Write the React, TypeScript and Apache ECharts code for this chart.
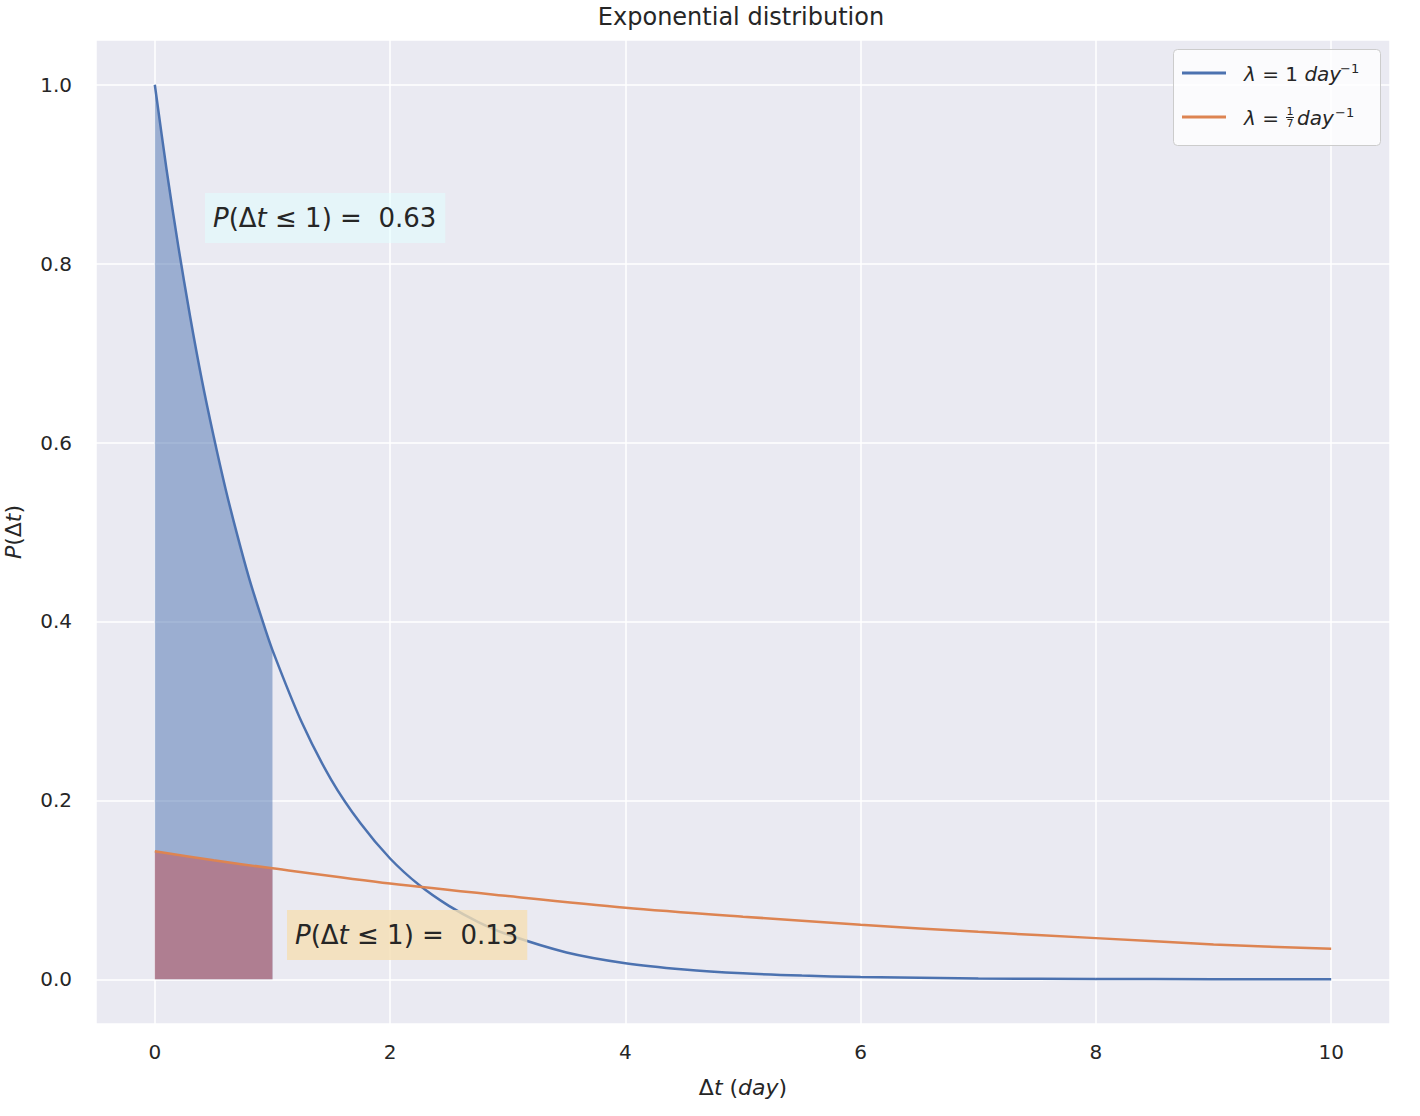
import React, { useEffect, useRef } from "react";
import * as echarts from "echarts";

// Values
const blueX = [0, 0.1, 0.2, 0.3, 0.4, 0.5, 0.6, 0.7, 0.8, 0.9, 1.0, 1.25, 1.5, 1.75, 2.0, 2.25, 2.5, 2.75, 3.0, 3.5, 4.0, 4.5, 5.0, 5.5, 6.0, 7.0, 8.0, 9.0, 10.0];
const blueY = [1.0, 0.905, 0.819, 0.741, 0.670, 0.607, 0.549, 0.497, 0.449, 0.407, 0.368, 0.287, 0.223, 0.174, 0.135, 0.105, 0.082, 0.064, 0.050, 0.030, 0.018, 0.011, 0.0067, 0.0041, 0.0025, 0.0009, 0.0003, 0.0001, 0.00005];
const orangeX = [0, 0.5, 1, 2, 3, 4, 5, 6, 7, 8, 9, 10];
const orangeY = [0.143, 0.133, 0.124, 0.107, 0.093, 0.080, 0.070, 0.061, 0.053, 0.046, 0.039, 0.034];
const fillUntil = 1;
const xTickLabels = [0, 2, 4, 6, 8, 10];
const yTickLabels = [0, 0.2, 0.4, 0.6, 0.8, 1.0];
const probBlue = "0.63";
const probOrange = "0.13";
const titleText = "Exponential distribution";

const FONT = "DejaVu Sans";
const TXT = "#262626";
const BLUE = "#4c72b0";
const ORANGE = "#dd8452";
const RED = "#c44e52";

const pairs = (xs: number[], ys: number[]) => xs.map((x, i) => [x, ys[i]]);
const upTo = (xs: number[], ys: number[], lim: number) =>
  xs.map((x, i) => [x, ys[i]]).filter((p) => p[0] <= lim);

const annotRich = (size: number) => ({
  i: { fontStyle: "italic", fontSize: size, fontFamily: FONT, fill: TXT, lineHeight: size },
  n: { fontSize: size, fontFamily: FONT, fill: TXT, lineHeight: size },
});

export default function App() {
  const ref = useRef<HTMLDivElement>(null);
  useEffect(() => {
    if (!ref.current) return;
    const chart = echarts.init(ref.current, null, { renderer: "svg" });
    const annotSize = 26;
    const legendSize = 20;
    const option: any = {
      animation: false,
      backgroundColor: "#ffffff",
      grid: {
        left: 96,
        right: 30,
        top: 40,
        bottom: 92,
        show: true,
        backgroundColor: "#eaeaf2",
        borderWidth: 0,
        containLabel: false,
        outerBoundsMode: "none",
      },
      xAxis: {
        type: "value",
        min: -0.5,
        max: 10.5,
        splitNumber: 5,
        axisLine: { show: false },
        axisTick: { show: false },
        splitLine: { show: true, lineStyle: { color: "#ffffff", width: 1.5 } },
        axisLabel: {
          showMinLabel: false,
          showMaxLabel: false,
          margin: 18,
          fontSize: 20,
          fontFamily: FONT,
          color: TXT,
          formatter: (v: number) => (xTickLabels.includes(v) ? String(v) : ""),
        },
        name: "{d|Δ}{i|t}{d| (}{i|day}{d|)}",
        nameLocation: "middle",
        nameGap: 52,
        nameTextStyle: {
          rich: {
            d: { fontSize: 22, fontFamily: FONT, color: TXT },
            i: { fontSize: 22, fontFamily: FONT, color: TXT, fontStyle: "italic" },
          },
        },
      },
      yAxis: {
        type: "value",
        min: -0.05,
        max: 1.05,
        splitNumber: 5,
        axisLine: { show: false },
        axisTick: { show: false },
        splitLine: { show: true, lineStyle: { color: "#ffffff", width: 1.5 } },
        axisLabel: {
          showMinLabel: false,
          showMaxLabel: false,
          margin: 24,
          fontSize: 20,
          fontFamily: FONT,
          color: TXT,
          formatter: (v: number) =>
            yTickLabels.some((t) => Math.abs(t - v) < 1e-9) ? v.toFixed(1) : "",
        },
        name: "{i|P}{d|(Δ}{i|t}{d|)}",
        nameLocation: "middle",
        nameGap: 72,
        nameRotate: 90,
        nameTextStyle: {
          rich: {
            d: { fontSize: 22, fontFamily: FONT, color: TXT },
            i: { fontSize: 22, fontFamily: FONT, color: TXT, fontStyle: "italic" },
          },
        },
      },
      series: [
        {
          type: "line",
          data: upTo(blueX, blueY, fillUntil),
          smooth: 0.3,
          symbol: "none",
          lineStyle: { width: 0 },
          areaStyle: { color: BLUE, opacity: 0.5 },
          z: 1,
          silent: true,
        },
        {
          type: "line",
          data: upTo(orangeX, orangeY, fillUntil),
          symbol: "none",
          lineStyle: { width: 0 },
          areaStyle: { color: RED, opacity: 0.5 },
          z: 2,
          silent: true,
        },
        {
          type: "line",
          data: pairs(blueX, blueY),
          smooth: 0.3,
          symbol: "none",
          lineStyle: { color: BLUE, width: 2.5 },
          z: 3,
        },
        {
          type: "line",
          data: pairs(orangeX, orangeY),
          smooth: 0.3,
          symbol: "none",
          lineStyle: { color: ORANGE, width: 2.5 },
          z: 3,
        },
      ],
      graphic: [
        {
          type: "text",
          x: 741,
          y: 17,
          z: 10,
          style: {
            text: titleText,
            fontSize: 24,
            fontFamily: FONT,
            fill: TXT,
            align: "center",
            verticalAlign: "middle",
          },
        },
        {
          type: "text",
          x: 205,
          y: 193,
          z: 10,
          style: {
            text: `{i|P}{n|(Δ}{i|t}{n| ≤ 1) =  ${probBlue}}`,
            rich: annotRich(annotSize),
            fontSize: annotSize,
            fontFamily: FONT,
            fill: TXT,
            lineHeight: annotSize,
            backgroundColor: "rgba(224,255,255,0.5)",
            padding: [12, 9, 12, 8],
          },
        },
        {
          type: "text",
          x: 287,
          y: 910,
          z: 10,
          style: {
            text: `{i|P}{n|(Δ}{i|t}{n| ≤ 1) =  ${probOrange}}`,
            rich: annotRich(annotSize),
            fontSize: annotSize,
            fontFamily: FONT,
            fill: TXT,
            lineHeight: annotSize,
            backgroundColor: "rgba(245,222,179,0.8)",
            padding: [12, 9, 12, 8],
          },
        },
        // legend
        {
          type: "rect",
          z: 10,
          shape: { x: 1173.5, y: 49.5, width: 207, height: 96, r: 4 },
          style: { fill: "rgba(255,255,255,0.8)", stroke: "#cccccc", lineWidth: 1 },
        },
        {
          type: "line",
          z: 11,
          shape: { x1: 1182, y1: 73, x2: 1226, y2: 73 },
          style: { stroke: BLUE, lineWidth: 3 },
        },
        {
          type: "line",
          z: 11,
          shape: { x1: 1182, y1: 117, x2: 1226, y2: 117 },
          style: { stroke: ORANGE, lineWidth: 3 },
        },
        {
          type: "text",
          z: 11,
          x: 1244,
          y: 74,
          style: {
            text: "{i|λ}{n| = 1 }{i|day}",
            rich: annotRich(legendSize),
            fontSize: legendSize,
            fontFamily: FONT,
            fill: TXT,
            verticalAlign: "middle",
          },
        },
        {
          type: "text",
          z: 11,
          x: 1340,
          y: 68,
          style: { text: "−1", fontSize: 13, fontFamily: FONT, fill: TXT, verticalAlign: "middle" },
        },
        {
          type: "text",
          z: 11,
          x: 1244,
          y: 118,
          style: {
            text: "{i|λ}{n| =}",
            rich: annotRich(legendSize),
            fontSize: legendSize,
            fontFamily: FONT,
            fill: TXT,
            verticalAlign: "middle",
          },
        },
        {
          type: "text",
          z: 11,
          x: 1290,
          y: 111,
          style: { text: "1", fontSize: 11, fontFamily: FONT, fill: TXT, align: "center", verticalAlign: "middle" },
        },
        {
          type: "line",
          z: 11,
          shape: { x1: 1286, y1: 117.5, x2: 1294, y2: 117.5 },
          style: { stroke: TXT, lineWidth: 1 },
        },
        {
          type: "text",
          z: 11,
          x: 1290,
          y: 123,
          style: { text: "7", fontSize: 11, fontFamily: FONT, fill: TXT, align: "center", verticalAlign: "middle" },
        },
        {
          type: "text",
          z: 11,
          x: 1297,
          y: 118,
          style: {
            text: "{i|day}",
            rich: annotRich(legendSize),
            fontSize: legendSize,
            fontFamily: FONT,
            fill: TXT,
            verticalAlign: "middle",
          },
        },
        {
          type: "text",
          z: 11,
          x: 1335,
          y: 112,
          style: { text: "−1", fontSize: 13, fontFamily: FONT, fill: TXT, verticalAlign: "middle" },
        },
      ],
    };
    chart.setOption(option);
    return () => chart.dispose();
  }, []);
  return (
    <div
      ref={ref}
      style={{ position: "fixed", left: 0, top: 0, width: 1420, height: 1116 }}
    />
  );
}
